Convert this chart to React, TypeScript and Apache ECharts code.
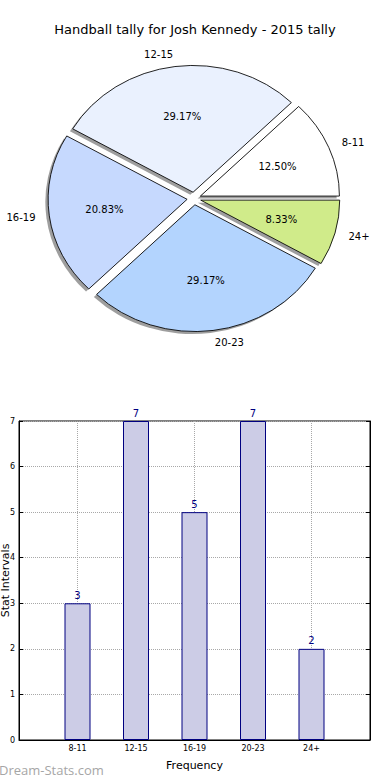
import React, { useEffect, useRef } from 'react';
import * as echarts from 'echarts';

const titleText = 'Handball tally for Josh Kennedy - 2015 tally';
const categories = ['8-11', '12-15', '16-19', '20-23', '24+'];
const counts = [3, 7, 5, 7, 2];
const sliceColors = ['#ffffff', '#eaf1fe', '#c6d9fe', '#b3d4fe', '#d0eb8a'];
const xAxisName = 'Frequency';
const yAxisName = 'Stat Intervals';
const watermark = 'Dream-Stats.com';

const FONT = '"DejaVu Sans", sans-serif';
const PIE_CX = 194;
const PIE_CY = 198.5;
const PIE_RX = 139;
const PIE_RY = 126.7;
const EXPLODE = 0.05;
const SHADOW = 0.02;

export default function App() {
  const ref = useRef<HTMLDivElement>(null);
  useEffect(() => {
    if (!ref.current) return;
    const chart = echarts.init(ref.current, undefined, { renderer: 'svg' });
    const total = counts.reduce((a, b) => a + b, 0);
    const option: any = {
      animation: false,
      backgroundColor: '#ffffff',
      title: {
        text: titleText,
        left: 'center',
        top: 18,
        textStyle: { fontFamily: FONT, fontSize: 13, fontWeight: 'normal', color: '#000' },
      },
      grid: {
        left: 19, right: 20, top: 421, bottom: 40,
        containLabel: false,
        outerBoundsMode: 'none',
        show: true, borderColor: '#000', borderWidth: 1, backgroundColor: 'transparent',
      },
      xAxis: {
        type: 'value', min: -1, max: 5, interval: 1,
        name: xAxisName, nameLocation: 'middle', nameGap: 20, nameMoveOverlap: false,
        nameTextStyle: { fontFamily: FONT, fontSize: 11, color: '#000' },
        axisLine: { show: true, onZero: false, lineStyle: { color: '#000' } },
        axisTick: { show: true, inside: true, length: 4, lineStyle: { color: '#000' } },
        axisLabel: {
          fontFamily: FONT, fontSize: 8, color: '#000', margin: 4,
          formatter: (v: number) => categories[v] ?? '',
        },
        splitLine: { show: true, lineStyle: { type: 'dotted', color: '#a8a8a8' } },
      },
      yAxis: [
        {
          type: 'value', min: 0, max: 7, interval: 1,
          name: yAxisName, nameLocation: 'middle', nameGap: 8, nameRotate: 90, nameMoveOverlap: false,
          nameTextStyle: { fontFamily: FONT, fontSize: 11, color: '#000' },
          axisLine: { show: true, onZero: false, lineStyle: { color: '#000' } },
          axisTick: { show: true, inside: true, length: 4, lineStyle: { color: '#000' } },
          axisLabel: { fontFamily: FONT, fontSize: 8, color: '#000', margin: 4 },
          splitLine: { show: true, lineStyle: { type: 'dotted', color: '#a8a8a8' } },
        },
        {
          type: 'value', min: 0, max: 7, interval: 1, position: 'right',
          axisLine: { show: true, onZero: false, lineStyle: { color: '#000' } },
          axisTick: { show: true, inside: true, length: 4, lineStyle: { color: '#000' } },
          axisLabel: { show: false },
          splitLine: { show: false },
        },
      ],
      graphic: [
        {
          type: 'text', left: -1, top: 763,
          style: { text: watermark, fill: '#a6a6a6', font: '13px "Open Sans", sans-serif' },
        },
      ],
      series: [
        {
          type: 'bar',
          xAxisIndex: 0, yAxisIndex: 0,
          data: counts.map((c, i) => [i, c]),
          barWidth: 26,
          itemStyle: { color: '#cccce6', borderColor: '#000080', borderWidth: 1 },
          label: { show: true, position: 'top', distance: 3, color: '#000080', fontFamily: FONT, fontSize: 10 },
        },
        {
          type: 'custom',
          coordinateSystem: 'none',
          data: counts.map((c) => [c]),
          renderItem: (params: any, api: any) => {
            const i = params.dataIndex;
            let before = 0;
            for (let k = 0; k < i; k++) before += counts[k];
            const v = api.value(0);
            const a0 = (before / total) * 2 * Math.PI;
            const a1 = ((before + v) / total) * 2 * Math.PI;
            const mid = (a0 + a1) / 2;
            const c = Math.cos(mid);
            const s = Math.sin(mid);
            const ox = PIE_CX + EXPLODE * PIE_RX * c;
            const oy = PIE_CY - EXPLODE * PIE_RY * s;
            const sy = PIE_RY / PIE_RX;
            const shape = { cx: 0, cy: 0, r0: 0, r: PIE_RX, startAngle: -a1, endAngle: -a0, clockwise: true };
            const lf = 1.1 + EXPLODE;
            const pf = 0.6 + EXPLODE;
            return {
              type: 'group',
              children: [
                {
                  type: 'sector', x: ox - SHADOW * PIE_RX, y: oy + SHADOW * PIE_RY, scaleY: sy,
                  shape, style: { fill: 'rgba(40,40,40,0.45)' }, z2: 0, silent: true,
                },
                {
                  type: 'sector', x: ox, y: oy, scaleY: sy,
                  shape, style: { fill: sliceColors[i], stroke: '#000', lineWidth: 0.9, strokeNoScale: true }, z2: 5,
                },
                {
                  type: 'text',
                  x: PIE_CX + lf * PIE_RX * c,
                  y: PIE_CY - lf * PIE_RY * s,
                  style: {
                    text: categories[i], fill: '#000', fontFamily: FONT, fontSize: 10,
                    align: c >= 0 ? 'left' : 'right', verticalAlign: 'middle',
                  },
                  z2: 10,
                },
                {
                  type: 'text',
                  x: PIE_CX + pf * PIE_RX * c,
                  y: PIE_CY - pf * PIE_RY * s,
                  style: {
                    text: ((v / total) * 100).toFixed(2) + '%', fill: '#000', fontFamily: FONT, fontSize: 10,
                    align: 'center', verticalAlign: 'middle',
                  },
                  z2: 10,
                },
              ],
            };
          },
        },
      ],
    };
    chart.setOption(option);
    return () => chart.dispose();
  }, []);
  return <div ref={ref} style={{ position: 'absolute', left: 0, top: 0, width: 390, height: 780 }} />;
}
